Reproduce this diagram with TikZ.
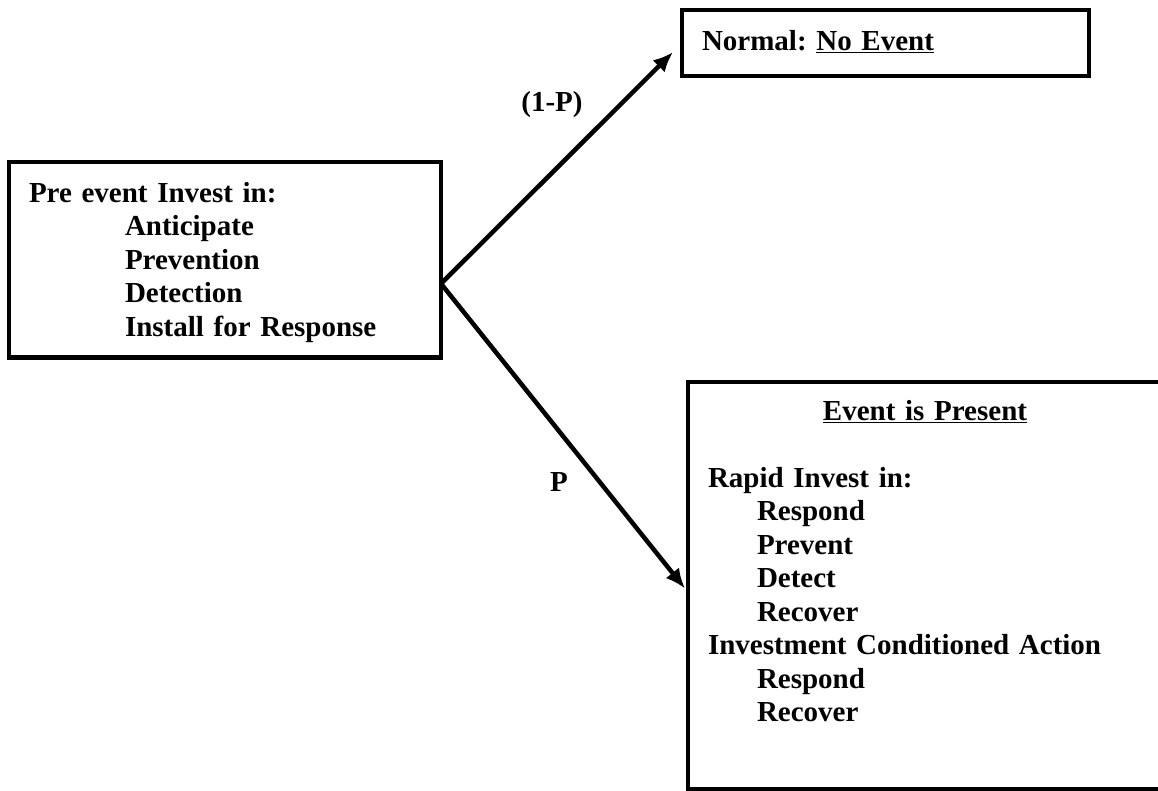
\documentclass[tikz,border=0pt]{standalone}
\usepackage{fontspec}
\setmainfont{Liberation Serif}
\usepackage{tikz}
\usetikzlibrary{arrows.meta}

\tikzset{
    casebox/.style={rectangle,draw,line width=4.5pt,outer sep=0pt,anchor=north west,
        align=left,inner xsep=20pt,font=\bfseries\fontsize{29}{33.5}\selectfont\frenchspacing},
    branch/.style={line width=4.5pt,-{Latex[length=20pt,width=17pt]}},
    prob/.style={font=\bfseries\fontsize{29}{33.5}\selectfont}
}

\begin{document}
\begin{tikzpicture}[x=1pt,y=-1pt]
    \useasboundingbox (0,0) rectangle (1158,790);

    \node[casebox,text width=392pt,inner ysep=20pt,text depth=135.5pt] (pre) at (9,162) {Pre event Invest in:\\
        \hspace*{96pt}Anticipate\\
        \hspace*{96pt}Prevention\\
        \hspace*{96pt}Detection\\
        \hspace*{96pt}Install for Response};

    \node[casebox,text width=367pt,inner ysep=20pt,text depth=6pt] (normal) at (682,10) {Normal: \underline{No Event}};

    \node[casebox,text width=434pt,inner ysep=18pt,text depth=351pt] (event) at (688,382) {\makebox[434pt]{\underline{Event is Present}}\\[33.5pt]
        Rapid Invest in:\\
        \hspace*{49pt}Respond\\
        \hspace*{49pt}Prevent\\
        \hspace*{49pt}Detect\\
        \hspace*{49pt}Recover\\
        Investment Conditioned Action\\
        \hspace*{49pt}Respond\\
        \hspace*{49pt}Recover};

    \node[prob] (noev) at (552,105) {(1-P)};
    \node[prob] (ev) at (559,482) {P};

    \draw[branch] ([yshift=74pt]pre.south east) -- ([shift={(-9pt,-9pt)}]normal.west);
    \draw[branch] ([yshift=74pt]pre.south east) -- ([shift={(-3pt,-3pt)}]event.west);

\end{tikzpicture}
\end{document}
